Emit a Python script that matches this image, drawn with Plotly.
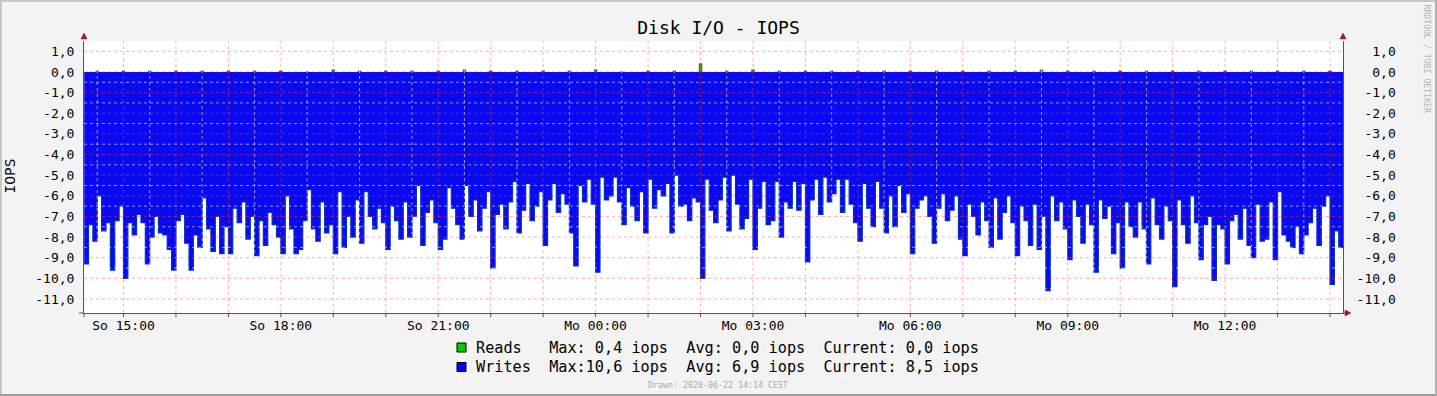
import plotly.graph_objects as go
import pandas as pd

# ---------------- data ----------------
# Writes (iops), one value per 5-minute step starting So 14:15 (drawn downward)
writes = [
    9.3, 7.4, 8.2, 6.0, 7.7, 7.3, 9.6, 7.2, 6.5, 10.0, 7.3, 7.9,
    6.9, 7.3, 9.3, 8.0, 7.0, 7.8, 7.9, 8.6, 9.6, 7.2, 6.9, 8.3,
    9.6, 7.9, 8.5, 6.1, 7.6, 8.7, 7.0, 8.8, 7.5, 8.8, 6.6, 7.3,
    6.3, 8.1, 7.0, 8.9, 7.2, 8.4, 6.8, 7.4, 8.0, 8.8, 6.0, 7.6,
    8.8, 8.6, 7.2, 5.7, 7.6, 8.2, 6.3, 7.8, 7.4, 8.8, 5.8, 8.5,
    7.0, 8.0, 6.2, 8.3, 5.8, 7.0, 7.6, 6.6, 7.3, 8.6, 6.5, 7.2,
    8.1, 6.3, 8.0, 7.0, 5.5, 8.4, 6.8, 6.2, 7.3, 8.6, 8.1, 5.6,
    6.6, 7.4, 8.1, 5.5, 7.0, 6.2, 7.7, 6.6, 5.8, 9.5, 6.9, 6.4,
    7.6, 6.3, 5.3, 7.8, 6.7, 5.4, 7.2, 6.5, 5.8, 8.4, 6.2, 5.4,
    6.8, 5.9, 6.4, 7.8, 9.4, 5.5, 6.3, 5.2, 6.4, 9.7, 5.1, 6.2,
    6.0, 5.1, 6.3, 7.4, 5.6, 6.5, 7.2, 5.8, 7.8, 5.2, 6.6, 5.7,
    6.0, 5.4, 7.8, 5.0, 6.5, 6.4, 7.2, 6.1, 6.3, 10.0, 5.2, 6.7,
    7.3, 6.2, 5.1, 7.7, 5.0, 6.4, 7.6, 7.1, 5.2, 8.6, 6.6, 5.3,
    7.4, 7.2, 5.3, 8.0, 6.3, 6.6, 5.3, 6.7, 5.4, 9.2, 6.2, 5.2,
    6.9, 5.1, 6.3, 5.9, 5.2, 6.8, 5.2, 6.4, 7.3, 8.2, 5.4, 6.6,
    7.5, 5.3, 6.6, 7.8, 6.0, 7.5, 5.5, 6.8, 5.9, 8.8, 6.6, 6.2,
    6.0, 7.0, 8.3, 6.6, 5.9, 7.2, 6.7, 6.0, 8.1, 8.9, 6.4, 7.0,
    7.9, 6.3, 7.2, 8.5, 6.1, 8.1, 6.8, 6.0, 7.3, 8.9, 6.5, 7.2,
    8.4, 6.4, 8.6, 7.0, 10.6, 6.0, 7.2, 6.3, 7.6, 9.1, 6.2, 7.0,
    8.3, 6.4, 7.4, 9.7, 6.2, 7.1, 6.5, 8.8, 7.3, 9.5, 6.3, 7.5,
    8.0, 6.3, 7.6, 9.3, 6.1, 7.4, 8.1, 6.5, 7.2, 10.4, 6.2, 7.4,
    8.3, 6.0, 7.3, 9.1, 7.4, 7.0, 10.1, 7.4, 7.6, 9.3, 7.2, 6.9,
    8.1, 6.6, 8.4, 9.0, 6.4, 8.2, 8.1, 6.3, 9.1, 5.8, 7.9, 8.2,
    8.5, 7.5, 8.8, 7.9, 7.3, 6.6, 8.4, 6.5, 6.0, 10.3, 7.7, 8.5,
]
write_start = "2020-06-21 14:15"

# Reads (iops), one value per half hour starting So 14:30
reads = [
    0.05, 0.05, 0.05, 0.05, 0.05, 0.05, 0.05, 0.05, 0.0, 0.1, 0.05, 0.05,
    0.05, 0.05, 0.1, 0.05, 0.05, 0.05, 0.05, 0.1, 0.0, 0.05, 0.05, 0.4,
    0.05, 0.1, 0.05, 0.05, 0.05, 0.05, 0.05, 0.05, 0.05, 0.05, 0.05, 0.05,
    0.1, 0.05, 0.05, 0.05, 0.05, 0.05, 0.05, 0.05, 0.05, 0.05, 0.05, 0.05,
]
read_start = "2020-06-21 14:30"

range_start = "2020-06-21 14:14:50"
range_end = "2020-06-22 14:14:50"

y_tick_vals = [1, 0, -1, -2, -3, -4, -5, -6, -7, -8, -9, -10, -11]
y_tick_text = ["1,0", "0,0", "-1,0", "-2,0", "-3,0", "-4,0", "-5,0", "-6,0",
               "-7,0", "-8,0", "-9,0", "-10,0", "-11,0"]

x_label_times = ["2020-06-21 15:00", "2020-06-21 18:00", "2020-06-21 21:00",
                 "2020-06-22 00:00", "2020-06-22 03:00", "2020-06-22 06:00",
                 "2020-06-22 09:00", "2020-06-22 12:00"]
x_label_text = ["So 15:00", "So 18:00", "So 21:00", "Mo 00:00",
                "Mo 03:00", "Mo 06:00", "Mo 09:00", "Mo 12:00"]

legend_names = ["Reads", "Writes"]
legend_stats = ["  Max: 0,4 iops  Avg: 0,0 iops  Current: 0,0 iops",
                "Max:10,6 iops  Avg: 6,9 iops  Current: 8,5 iops"]
legend_colors = ["#00cc00", "#0000ff"]

title_text = "Disk I/O - IOPS"
y_title = "IOPS"
drawn_text = "Drawn: 2020-06-22 14:14 CEST"
credit_text = "RRDTOOL / TOBI OETIKER"

# ---------------- geometry helpers ----------------
W, H = 1437, 396
L, R, T, B = 84, 1343, 41, 313
YMIN, YMAX = -11.68, 1.5
MONO = "DejaVu Sans Mono"


def px(x):
    return (x - L) / (R - L)


def py(y):
    return (B - y) / (B - T)


def nb(s):
    return s.replace(" ", "\u00a0")


# ---------------- traces ----------------
wt = pd.date_range(write_start, periods=len(writes), freq="5min")
wx = list(wt) + [wt[-1] + pd.Timedelta(minutes=5)]
wy = [-v for v in writes] + [-writes[-1]]

rt = pd.date_range(read_start, periods=len(reads), freq="30min")

fig = go.Figure()
fig.add_trace(go.Scatter(
    x=wx, y=wy, mode="lines", line=dict(shape="hv", color="#0030c4", width=1.2),
    fill="tozeroy", fillcolor="#0a0af2", hoverinfo="skip", showlegend=False))
fig.add_trace(go.Bar(
    x=rt, y=reads, width=3 * 60 * 1000, marker=dict(color="#00c000",
    line=dict(color="#206000", width=0.8)), hoverinfo="skip", showlegend=False))
fig.add_trace(go.Scatter(
    x=[range_start], y=[0], yaxis="y2", mode="markers",
    marker=dict(opacity=0), hoverinfo="skip", showlegend=False))

# ---------------- grid (drawn above the data, like rrdtool) ----------------
shapes = []
minor_col = "rgba(255,255,255,0.55)"
major_col = "rgba(255,70,70,0.45)"
dash = "3px,3px"
axc = "#555555"
arc = "#a01818"
half_hours = pd.date_range("2020-06-21 14:30", "2020-06-22 14:00", freq="30min")
for t in half_hours:
    if t.minute == 30:
        shapes.append(dict(type="line", xref="x", yref="paper", x0=t, x1=t, y0=0, y1=1,
                           line=dict(color=minor_col, width=1, dash=dash), layer="above"))
y_half = [v / 2 for v in range(-23, 3)]
for v in y_half:
    if v != int(v):
        shapes.append(dict(type="line", xref="paper", yref="y", x0=0, x1=1, y0=v, y1=v,
                           line=dict(color=minor_col, width=1, dash=dash), layer="above"))
for t in half_hours:
    if t.minute == 0:
        shapes.append(dict(type="line", xref="x", yref="paper", x0=t, x1=t, y0=0, y1=1,
                           line=dict(color=major_col, width=1, dash=dash), layer="above"))
        # small tick below the axis
        shapes.append(dict(type="line", xref="x", yref="paper", x0=t, x1=t, y0=py(313),
                           y1=py(317), line=dict(color=axc, width=1)))
for v in y_tick_vals:
    shapes.append(dict(type="line", xref="paper", yref="y", x0=0, x1=1, y0=v, y1=v,
                       line=dict(color=major_col, width=1, dash=dash), layer="above"))

# axis extensions and arrows
shapes.append(dict(type="line", xref="paper", yref="paper", x0=px(79), x1=px(84),
                   y0=py(313), y1=py(313), line=dict(color=axc, width=1)))
shapes.append(dict(type="line", xref="paper", yref="paper", x0=px(84), x1=px(84),
                   y0=py(313), y1=py(317), line=dict(color=axc, width=1)))
shapes.append(dict(type="line", xref="paper", yref="paper", x0=px(1343), x1=px(1346),
                   y0=py(313), y1=py(313), line=dict(color=axc, width=1)))
for ax_x in (84, 1343):
    shapes.append(dict(type="path", xref="paper", yref="paper",
                       path="M %f %f L %f %f L %f %f Z" % (px(ax_x - 3), py(39), px(ax_x + 3), py(39),
                                                          px(ax_x), py(33)),
                       fillcolor=arc, line=dict(color=arc, width=0.5), layer="above"))
shapes.append(dict(type="path", xref="paper", yref="paper",
                   path="M %f %f L %f %f L %f %f Z" % (px(1345), py(310), px(1345), py(316),
                                                      px(1351), py(313)),
                   fillcolor=arc, line=dict(color=arc, width=0.5), layer="above"))

# frame
shapes.append(dict(type="rect", xref="paper", yref="paper", x0=px(1), x1=px(W - 1),
                   y0=py(1), y1=py(H - 1), line=dict(color="#c8c8c8", width=2)))
shapes.append(dict(type="line", xref="paper", yref="paper", x0=px(0), x1=px(W),
                   y0=py(H - 1), y1=py(H - 1), line=dict(color="#9a9a9a", width=2)))
shapes.append(dict(type="line", xref="paper", yref="paper", x0=px(W - 1), x1=px(W - 1),
                   y0=py(0), y1=py(H), line=dict(color="#b0b0b0", width=2)))

# legend boxes
annotations = []
for i, (name, stats, col) in enumerate(zip(legend_names, legend_stats, legend_colors)):
    yc = 347.5 + 19.5 * i
    shapes.append(dict(type="rect", xref="paper", yref="paper", x0=px(457), x1=px(466),
                       y0=py(yc - 4.5), y1=py(yc + 4.5), fillcolor=col,
                       line=dict(color="#000000", width=1)))
    label = name.ljust(8) + stats if i == 1 else name.ljust(6) + stats
    annotations.append(dict(xref="paper", yref="paper", x=px(474), y=py(yc),
                            xanchor="left", yanchor="middle", showarrow=False,
                            text=nb(label), font=dict(family=MONO, size=15.2, color="#000000")))

annotations.append(dict(xref="paper", yref="paper", x=px(9.5), y=py(176), textangle=-90,
                        xanchor="center", yanchor="middle", showarrow=False, text=y_title,
                        font=dict(family=MONO, size=14.5, color="#000000")))
annotations.append(dict(xref="paper", yref="paper", x=px(718), y=py(385),
                        xanchor="center", yanchor="middle", showarrow=False, text=nb(drawn_text),
                        font=dict(family=MONO, size=8.3, color="#aaaaaa")))
annotations.append(dict(xref="paper", yref="paper", x=px(1426.5), y=py(59), textangle=90,
                        xanchor="center", yanchor="middle", showarrow=False, text=nb(credit_text),
                        font=dict(family=MONO, size=8.2, color="#b4b4b4")))

# x ticks every hour, labels every three hours
hour_ticks = pd.date_range("2020-06-21 15:00", "2020-06-22 14:00", freq="1h")
label_map = dict(zip(pd.to_datetime(x_label_times), x_label_text))
hour_text = [label_map.get(t, "") for t in hour_ticks]

width_chars = max(len(s) for s in y_tick_text)
y_tick_text_right = [("\u00a0" * (width_chars - len(s))) + s for s in y_tick_text]

fig.update_layout(
    width=W, height=H, autosize=False,
    margin=dict(l=L, r=W - R, t=T, b=H - B, pad=0),
    paper_bgcolor="#f3f3f3", plot_bgcolor="#ffffff",
    title=dict(text=title_text, x=0.5, xref="container", xanchor="center",
               y=1 - 28 / H, yref="container", yanchor="middle",
               font=dict(family=MONO, size=18, color="#000000")),
    showlegend=False, bargap=0, hovermode=False,
    xaxis=dict(type="date", range=[range_start, range_end], tickmode="array",
               tickvals=list(hour_ticks), ticktext=hour_text, ticks="",
               showgrid=False, zeroline=False, showline=True,
               linecolor=axc, linewidth=1, ticklabelstandoff=0,
               tickfont=dict(family=MONO, size=13, color="#000000")),
    yaxis=dict(range=[YMIN, YMAX], tickmode="array", tickvals=y_tick_vals,
               ticktext=y_tick_text, ticks="", showgrid=False, zeroline=False,
               showline=True, linecolor=axc, linewidth=1, ticklabelstandoff=6,
               tickfont=dict(family=MONO, size=13, color="#000000")),
    yaxis2=dict(range=[YMIN, YMAX], overlaying="y", side="right", tickmode="array",
                tickvals=y_tick_vals, ticktext=y_tick_text_right, ticks="",
                showgrid=False, zeroline=False, showline=True, linecolor=axc,
                linewidth=1, ticklabelstandoff=10,
                tickfont=dict(family=MONO, size=13, color="#000000")),
    shapes=shapes, annotations=annotations,
)

fig.write_html("out.html", config={"displayModeBar": False, "staticPlot": True},
               post_script="document.body.style.margin='0';document.body.style.overflow='hidden';")
